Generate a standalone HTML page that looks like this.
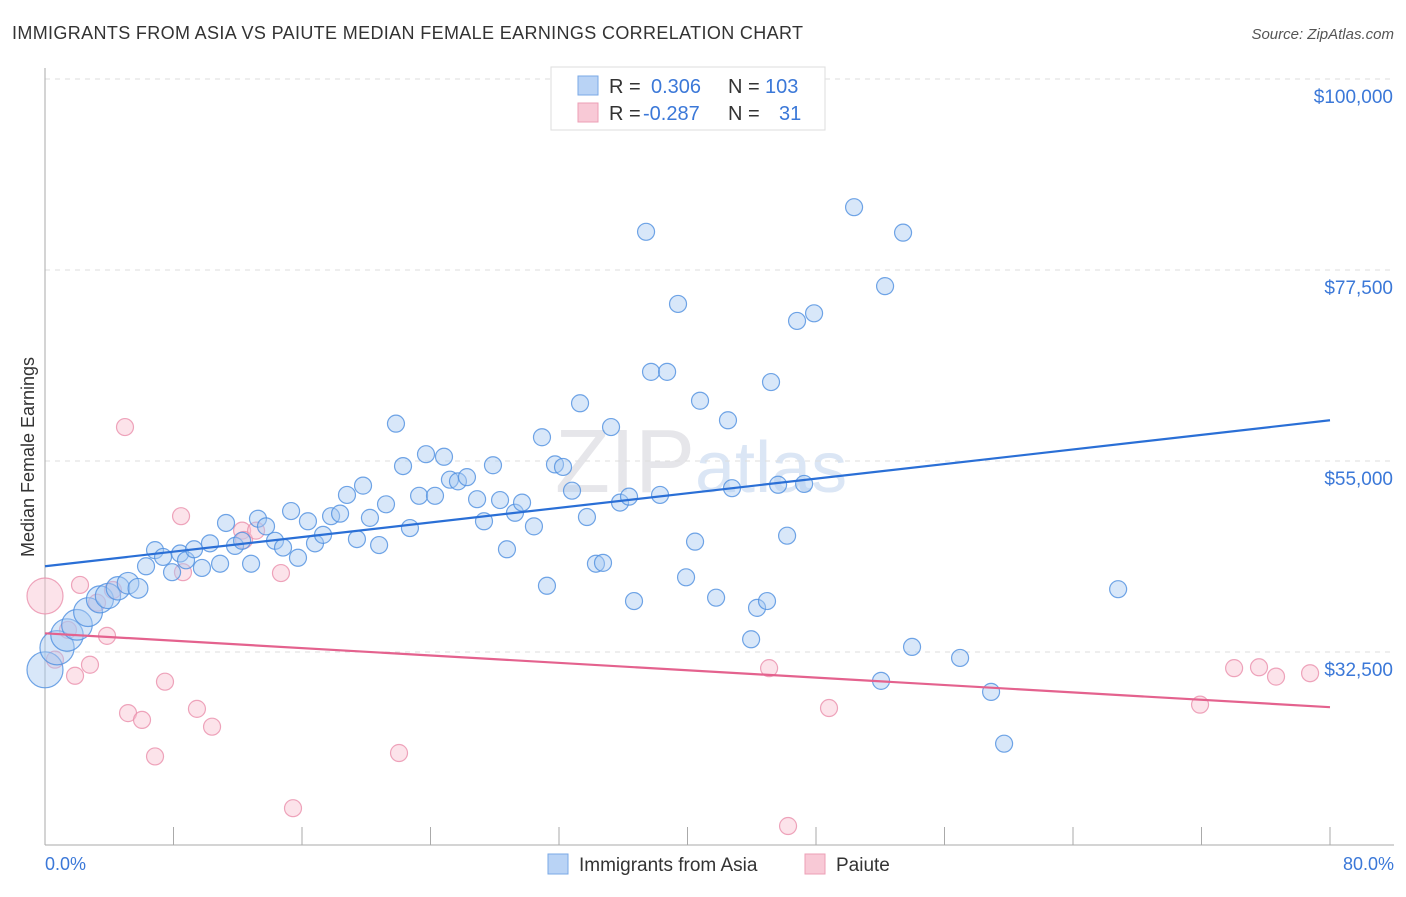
<!DOCTYPE html>
<html><head><meta charset="utf-8"><style>
body{margin:0;background:#fff;font-family:"Liberation Sans",sans-serif}
svg text{font-family:"Liberation Sans",sans-serif}
</style></head><body>
<svg id="chart" width="1406" height="892" xmlns="http://www.w3.org/2000/svg">
<text x="12" y="39" font-size="18" fill="#333" textLength="791">IMMIGRANTS FROM ASIA VS PAIUTE MEDIAN FEMALE EARNINGS CORRELATION CHART</text>
<text x="1394" y="39" font-size="15" fill="#555" text-anchor="end" font-style="italic">Source: ZipAtlas.com</text>
<text x="555" y="492" font-size="90" fill="#e6e6ea" font-family="Liberation Serif">ZIP<tspan fill="#dbe6f5" font-family="Liberation Sans" font-size="72">atlas</tspan></text>
<g id="grid"></g><g id="axes"></g><g id="pts"></g><g id="lines"></g>
<text transform="translate(34,457) rotate(-90)" font-size="18" fill="#333" text-anchor="middle">Median Female Earnings</text>
<text x="45" y="870" font-size="18" fill="#3b78d8">0.0%</text>
<text x="1394" y="870" font-size="18" fill="#3b78d8" text-anchor="end">80.0%</text>
<g>
<rect x="551" y="67" width="274" height="63" fill="#fff" stroke="#ddd"/>
<rect x="578" y="76" width="20" height="19" fill="#b9d3f5" stroke="#7aa8e6"/>
<rect x="578" y="103" width="20" height="19" fill="#f8c9d6" stroke="#ec9fb6"/>
<text x="609" y="93" font-size="20" fill="#333">R =</text><text x="651" y="93" font-size="20" fill="#3b78d8">0.306</text>
<text x="728" y="93" font-size="20" fill="#333">N =</text><text x="765" y="93" font-size="20" fill="#3b78d8">103</text>
<text x="609" y="120" font-size="20" fill="#333">R =</text><text x="643" y="120" font-size="20" fill="#3b78d8">-0.287</text>
<text x="728" y="120" font-size="20" fill="#333">N =</text><text x="779" y="120" font-size="20" fill="#3b78d8">31</text>
</g>
<g>
<rect x="548" y="854" width="20" height="20" fill="#b9d3f5" stroke="#7aa8e6"/>
<text x="579" y="871" font-size="19" fill="#333">Immigrants from Asia</text>
<rect x="805" y="854" width="20" height="20" fill="#f8c9d6" stroke="#ec9fb6"/>
<text x="836" y="871" font-size="19" fill="#333">Paiute</text>
</g>
</svg>
<script>
const yTicks=[100000,77500,55000,32500];
const yTickLabels=["$100,000","$77,500","$55,000","$32,500"];
const xTicks=[0,8,16,24,32,40,48,56,64,72,80];
const asiaX=[0,0.75,1.37,1.99,2.68,3.42,3.92,4.54,5.17,5.79,6.29,6.85,7.35,7.91,8.41,8.78,9.28,9.77,10.27,10.9,11.27,11.83,12.27,12.83,13.26,13.76,14.32,14.82,15.32,15.75,16.37,16.81,17.31,17.81,18.37,18.8,19.42,19.8,20.23,20.8,21.23,21.85,22.29,22.72,23.29,23.72,24.28,24.84,25.21,25.71,26.27,26.9,27.33,27.89,28.33,28.76,29.26,29.7,30.44,30.94,31.25,31.75,32.25,32.81,33.31,33.74,34.3,34.74,35.24,35.8,36.36,36.67,37.42,37.73,38.29,38.73,39.41,39.91,40.47,40.78,41.78,42.52,42.77,43.96,44.33,44.95,45.2,45.64,46.2,46.82,47.26,47.88,50.37,52.05,52.3,53.42,53.98,56.97,58.9,59.71,66.81];
const asiaY=[30.4,33.0,34.5,35.7,37.2,38.7,39.1,40.0,40.6,40.0,42.6,44.5,43.7,41.9,44.1,43.3,44.6,42.4,45.3,42.9,47.7,45.0,45.6,42.9,48.2,47.3,45.6,44.8,49.1,43.6,47.9,45.3,46.3,48.5,48.8,51.0,45.8,52.1,48.3,45.1,49.9,59.4,54.4,47.1,50.9,55.8,50.9,55.5,52.8,52.6,53.1,50.5,47.9,54.5,50.4,44.6,48.9,50.1,47.3,57.8,40.3,54.6,54.3,51.5,61.8,48.4,42.9,43.0,59.0,50.1,50.8,38.5,82.0,65.5,51.0,65.5,73.5,41.3,45.5,62.1,38.9,59.8,51.8,34.0,37.7,38.5,64.3,52.2,46.2,71.5,52.3,72.4,84.9,29.1,75.6,81.9,33.1,31.8,27.8,21.7,39.9];
const paiuteX=[0,0.62,1.43,1.87,2.18,2.8,3.24,3.86,4.23,4.98,5.17,6.04,6.85,7.47,8.47,8.59,9.46,10.4,12.27,12.39,13.14,14.69,15.44,22.04,45.08,46.26,48.81,71.91,74.03,75.58,76.64,78.76];
const paiuteY=[39.1,31.6,35.1,29.7,40.4,31.0,38.3,34.4,39.8,59.0,25.3,24.5,20.2,29.0,48.5,41.9,25.8,23.7,46.8,45.7,46.8,41.8,14.1,20.6,30.6,12.0,25.9,26.3,30.6,30.7,29.6,30.0];
const asiaTrend=[42.6,59.8];
const paiuteTrend=[34.7,26.0];
const NS="http://www.w3.org/2000/svg";
const X=v=>45+v/80*1285;
const Y=v=>79+(100-v/ (v>1000?1000:1))*191/22.5;
function mk(tag,attrs,parent){const e=document.createElementNS(NS,tag);for(const k in attrs)e.setAttribute(k,attrs[k]);document.getElementById(parent).appendChild(e);return e;}
yTicks.forEach((t,i)=>{
 const g=mk('line',{x1:45,x2:1394,y1:Y(t),y2:Y(t),stroke:'#ddd','stroke-dasharray':'5,5'},'grid');
 
 
 const tx=mk('text',{x:1393,y:Y(t)+24,'font-size':19,fill:'#3b78d8','text-anchor':'end'},'grid');
 tx.textContent=yTickLabels[i];
 
 
});
const ax=mk('line',{x1:45,x2:45,y1:68,y2:845,stroke:'#aaa'},'axes');


const bx=mk('line',{x1:45,x2:1394,y1:845,y2:845,stroke:'#aaa'},'axes');


xTicks.forEach(t=>{
 const l=mk('line',{x1:X(t),x2:X(t),y1:827,y2:845,stroke:'#aaa'},'axes');
 
 
});
function pts(xs,ys,fill,stroke,name,big){
 xs.forEach((x,i)=>{
  let r=8.5;
  if(big && i<10 && x<6) r=Math.max(9,18-i*0.9);
  if(!big && i===0) r=18;
  const c=mk('circle',{cx:X(x),cy:Y(ys[i]),r:r,fill:fill,'fill-opacity':0.45,stroke:stroke,'stroke-opacity':0.8,'stroke-width':1.2},'pts');
  
  
 });
}
pts(paiuteX,paiuteY,'#f8c0d0','#ea8fab','paiute-point',false);
pts(asiaX,asiaY,'#a9c9f2','#4d8ee0','asia-point',true);
const l1=mk('line',{x1:X(0),x2:X(80),y1:Y(asiaTrend[0]),y2:Y(asiaTrend[1]),stroke:'#2a6fd6','stroke-width':2.2},'lines');


const l2=mk('line',{x1:X(0),x2:X(80),y1:Y(paiuteTrend[0]),y2:Y(paiuteTrend[1]),stroke:'#e4628e','stroke-width':2.2},'lines');


</script>
</body></html>
